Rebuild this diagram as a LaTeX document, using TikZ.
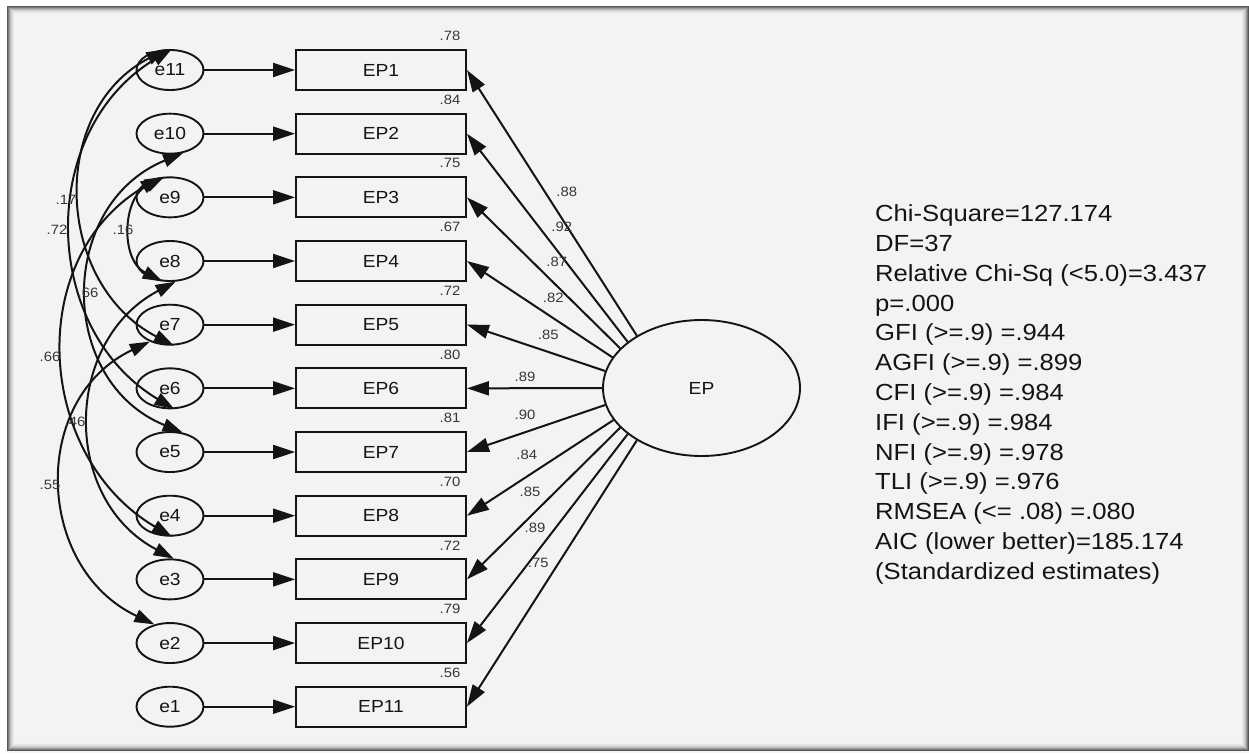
\documentclass[tikz,border=0pt]{standalone}
\usepackage{fontspec}
\setmainfont{Liberation Sans}[FakeStretch=1.1]
\usetikzlibrary{shapes.geometric,arrows.meta}
\definecolor{panelbg}{RGB}{243,243,243}
\definecolor{ink}{RGB}{20,20,20}
\definecolor{numink}{RGB}{55,55,55}

\begin{document}
\begin{tikzpicture}[x=1pt,y=-1pt,
  conn/.style={line width=2pt, draw=ink},
  onehead/.style={-{Triangle[length=22pt,width=14pt]}},
  twohead/.style={{Triangle[length=20pt,width=13pt]}-{Triangle[length=20pt,width=13pt]}},
  errnode/.style={ellipse, draw=ink, line width=1.9pt, minimum width=67pt, minimum height=40pt,
    inner sep=0pt, text=ink, font=\fontsize{17.5}{20}\selectfont},
  itembox/.style={rectangle, draw=ink, line width=1.9pt, minimum width=170pt, minimum height=40pt,
    inner sep=0pt, text=ink, font=\fontsize{17.5}{20}\selectfont},
  latent/.style={ellipse, draw=ink, line width=1.9pt, minimum width=197pt, minimum height=136pt,
    inner sep=0pt, text=ink, font=\fontsize{17.5}{20}\selectfont},
  num/.style={inner sep=0pt, text=numink, font=\fontsize{13.5}{15}\selectfont},
  stat/.style={inner sep=0pt, anchor=base west, text=ink, font=\fontsize{23.3}{28}\selectfont},
]
\useasboundingbox (0,0) rectangle (1249,753);
\fill[white] (0,0) rectangle (1249,753);

% sunken panel with an inner shadow
\fill[panelbg] (7,6) rectangle (1249,753);
\foreach \i/\c in {0/66,1/52,2/38,3/27,4/19,5/13,6/9,7/6}{
  \draw[black!\c, line width=1pt] ({7.5+\i},{6.5+\i}) rectangle ({1248.5-\i},{750.5-\i});
}

% latent factor
\node[latent] (EP) at (701.5,388) {EP};

% indicators, their error terms and squared multiple correlations
\foreach \r [count=\k] in {.78,.84,.75,.67,.72,.80,.81,.70,.72,.79,.56}{
  \pgfmathsetmacro\yy{70+63.67*(\k-1)}
  \pgfmathtruncatemacro\j{12-\k}
  \node[itembox] (ep\k) at (381,\yy) {EP\k};
  \node[errnode] (e\j) at (170,\yy) {e\j};
  \node[num] (r\k) at (450,\yy-34) {\r};
  \draw[conn, onehead] (e\j) -- (ep\k);
}

% factor loadings
\foreach \a/\v/\lx/\ly [count=\k] in {141/.88/566.7/191.7, 148/.92/561.7/226.7, 154/.87/556.7/261.7,
    161/.82/553.3/298.3, 170/.85/548.3/335, 180/.89/525/376.7, 190/.90/525/415,
    200/.84/526.7/455, 206/.85/530/491.7, 212/.89/535/528.3, 219/.75/538.3/563.3}{
  \draw[conn, onehead] (EP.\a) -- (ep\k.east);
  \node[num] (l\k) at (\lx,\ly) {\v};
}

% error covariances
\draw[conn, twohead] (e11.100) .. controls +(-118.7,61.6) and +(-118.7,-61.6) .. (e7.-80);
\draw[conn, twohead] (e11.85) .. controls +(-134.6,80.9) and +(-134.6,-80.9) .. (e6.-78);
\draw[conn, twohead] (e9.105) .. controls +(-42.4,21.4) and +(-42.4,-21.4) .. (e8.-110);
\draw[conn, twohead] (e10.-56) .. controls +(-125.9,51.4) and +(-125.9,-51.4) .. (e5.57);
\draw[conn, twohead] (e9.115) .. controls +(-136.5,80.5) and +(-136.5,-80.5) .. (e4.-85);
\draw[conn, twohead] (e8.-75) .. controls +(-112.5,59.1) and +(-112.5,-59.1) .. (e3.80);
\draw[conn, twohead] (e7.-140) .. controls +(-119.8,56.7) and +(-119.8,-56.7) .. (e2.130);

\node[num] (c1) at (66,200) {.17};
\node[num] (c2) at (57,230) {.72};
\node[num] (c3) at (123,230) {.16};
\node[num] (c4) at (88,293) {.66};
\node[num] (c5) at (50,357) {.66};
\node[num] (c6) at (75,422) {.46};
\node[num] (c7) at (50,485) {.55};

% fit statistics
\foreach \txt [count=\i] in {Chi-Square=127.174, DF=37, {Relative Chi-Sq (<5.0)=3.437}, p=.000,
    {GFI (>=.9) =.944}, {AGFI (>=.9) =.899}, {CFI (>=.9) =.984}, {IFI (>=.9) =.984},
    {NFI (>=.9) =.978}, {TLI (>=.9) =.976}, {RMSEA (<= .08) =.080},
    {AIC (lower better)=185.174}, {(Standardized estimates)}}{
  \node[stat] (s\i) at (875,{221.7+29.8*(\i-1)}) {\txt};
}
\end{tikzpicture}
\end{document}
